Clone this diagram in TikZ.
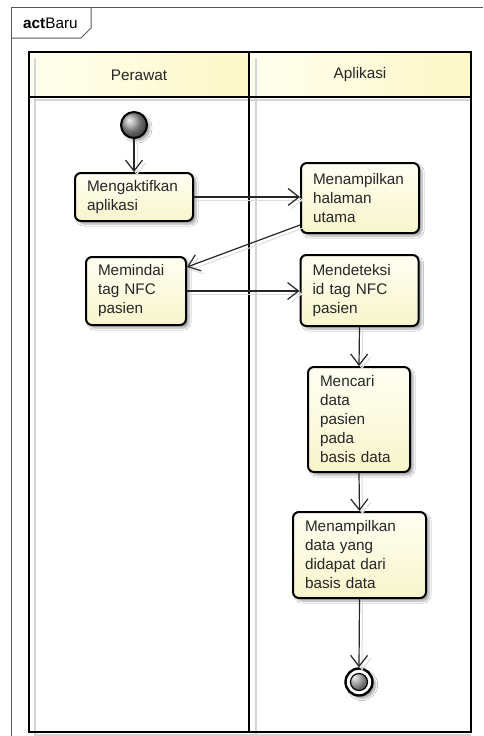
\documentclass[tikz,border=0pt]{standalone}
\usepackage{fontspec}
\setmainfont{Liberation Sans}
\usetikzlibrary{arrows.meta,shadows.blur,calc}

\definecolor{boxtop}{RGB}{255,255,243}
\definecolor{boxbot}{RGB}{248,245,203}
\definecolor{hdrl}{RGB}{255,255,240}
\definecolor{hdrr}{RGB}{252,248,198}
\definecolor{ink}{RGB}{38,38,38}
\definecolor{lanegray}{RGB}{212,212,212}
\definecolor{framegray}{RGB}{90,90,90}

\begin{document}
\begin{tikzpicture}[x=1pt,y=-1pt,
  font=\fontsize{15.3}{19}\selectfont,
  action/.style={draw=black, line width=2pt, rounded corners=6pt,
    top color=boxtop, bottom color=boxbot, align=left, text=ink,
    inner xsep=12pt, inner ysep=0pt, anchor=center,
    blur shadow={shadow xshift=3pt, shadow yshift=-3pt,
      shadow blur steps=6, shadow opacity=35}},
  flow/.style={draw=ink, line width=1.2pt,
    -{Straight Barb[length=11pt,width=17pt,line width=1.2pt]}},
  flowshadow/.style={draw=lanegray!80, line width=1pt,
    -{Straight Barb[length=11pt,width=17pt,line width=1pt]},
    transform canvas={xshift=3pt,yshift=-3pt}},
  lanetext/.style={text=ink},
  frameline/.style={draw=framegray, line width=1pt},
  laneline/.style={draw=black, line width=2.5pt},
  laneshadow/.style={draw=lanegray, line width=1.2pt},
  initialnode/.style={circle, draw=black, line width=2pt, minimum size=26pt,
    inner sep=0pt, shading=ball, ball color=black!38,
    blur shadow={shadow xshift=3pt, shadow yshift=-3pt,
      shadow blur steps=5, shadow opacity=35}},
  finalnode/.style={circle, draw=black, line width=2.4pt, minimum size=27pt,
    inner sep=0pt, fill=white,
    path picture={\shade[ball color=black!40, draw=black, line width=1.2pt]
      (path picture bounding box.center) circle (8.5pt);},
    blur shadow={shadow xshift=3pt, shadow yshift=-3pt,
      shadow blur steps=5, shadow opacity=35}}
]
\useasboundingbox (0,0) rectangle (483,736);
\fill[white] (0,0) rectangle (483,736);

% diagram frame with its name tab
\draw[frameline] (11,736) -- (11,7) -- (483,7);
\draw[frameline] (11,38) -- (81,38) -- (91,28) -- (91,7);
\node[anchor=west, inner sep=0pt, text=black] (title) at (23,23) {\textbf{act}Baru};

% swimlane headers
\shade[left color=hdrl, right color=hdrr] (29,52) rectangle (249,97);
\shade[left color=hdrl, right color=hdrr] (249,52) rectangle (471,97);

% lane shadows
\draw[laneshadow] (35,58) -- (35,735) -- (471,735);
\draw[laneshadow] (256,58) -- (256,735);
\draw[laneshadow] (35,100) -- (471,100);

% lane borders
\draw[laneline] (29,52) rectangle (471,732);
\draw[laneline] (249,52) -- (249,732);
\draw[laneline] (29,97) -- (471,97);

\node[lanetext] (lane1) at (139,75) {Perawat};
\node[lanetext] (lane2) at (360,75) {Aplikasi};

% actions
\node[action, text width=94pt, minimum width=118pt, minimum height=48pt]
  (m1) at (134,197) {Mengaktifkan\\aplikasi};
\node[action, text width=94pt, minimum width=118pt, minimum height=70pt]
  (m2) at (360,198) {Menampilkan\\halaman\\utama};
\node[action, text width=76pt, minimum width=100pt, minimum height=68pt]
  (m3) at (136,291) {Memindai\\tag NFC\\pasien};
\node[action, text width=94pt, minimum width=118pt, minimum height=71pt]
  (m4) at (359.5,290.5) {Mendeteksi\\id tag NFC\\pasien};
\node[action, text width=78pt, minimum width=102pt, minimum height=105pt]
  (m5) at (359,419.5) {Mencari\\data\\pasien\\pada\\basis data};
\node[action, text width=109pt, minimum width=133pt, minimum height=86pt]
  (m6) at (359.5,555) {Menampilkan\\data yang\\didapat dari\\basis data};

% start and end
\node[initialnode] (start) at (134,125) {};
\node[finalnode] (end) at (359,682) {};

\coordinate (d1) at ($(m2.south west)+(0,-9)$);
\coordinate (d2) at ($(m3.north east)+(0,11)$);

% flow shadows
\draw[flowshadow] (start) -- (m1);
\draw[flowshadow] (m1.east) -- (m1.east -| m2.west);
\draw[flowshadow] (d1) -- (d2);
\draw[flowshadow] (m3.east) -- (m3.east -| m4.west);
\draw[flowshadow] (m4.south) -- (m5.north);
\draw[flowshadow] (m5.south) -- (m6.north);
\draw[flowshadow] (m6.south) -- (end.north);

% control flows
\draw[flow] (start) -- (m1);
\draw[flow] (m1.east) -- (m1.east -| m2.west);
\draw[flow] (d1) -- (d2);
\draw[flow] (m3.east) -- (m3.east -| m4.west);
\draw[flow] (m4.south) -- (m5.north);
\draw[flow] (m5.south) -- (m6.north);
\draw[flow] (m6.south) -- (end.north);
\end{tikzpicture}
\end{document}
